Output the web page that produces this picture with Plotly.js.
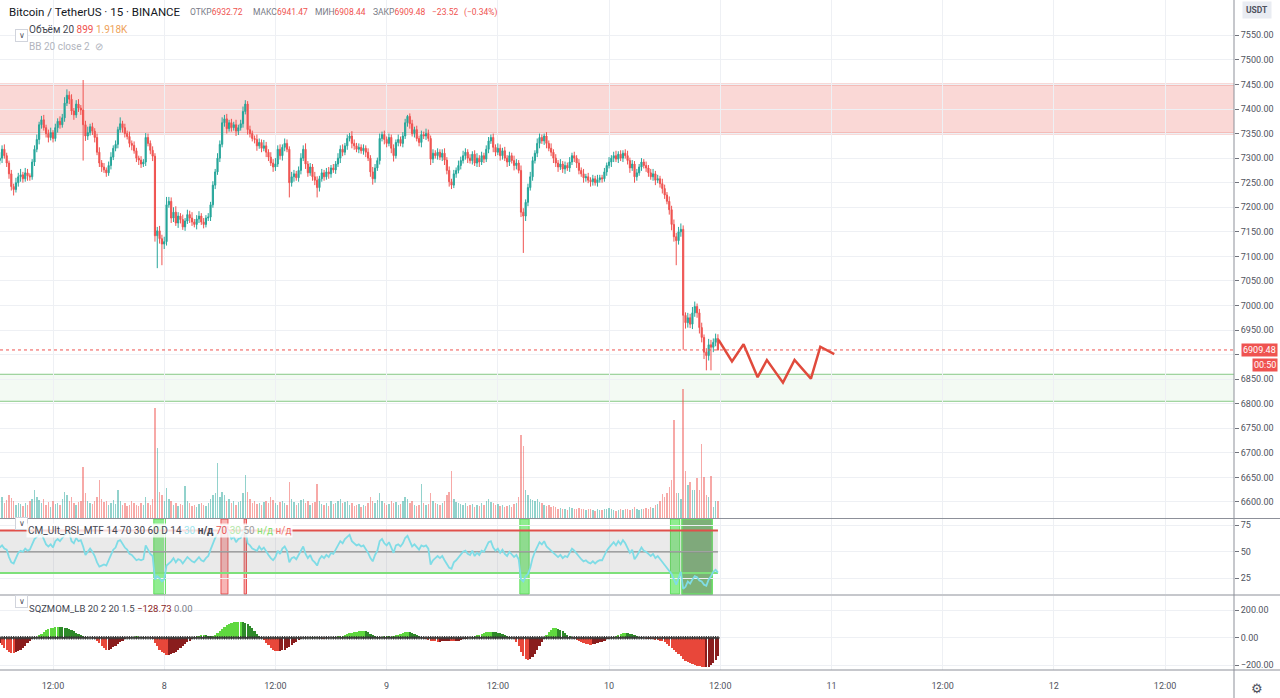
<!DOCTYPE html>
<html><head><meta charset="utf-8">
<script src="https://cdn.plot.ly/plotly-3.0.1.min.js"></script>
<style>html,body{margin:0;padding:0;background:#fff;overflow:hidden}#chart{width:1280px;height:698px}</style>
</head><body><div id="chart"></div>
<script>
// ---------- DATA (15-minute candles, BINANCE BTC/USDT) ----------
const startTime = '2018-06-07 06:15';
const firstOpen = 7295;
const closes = [
7300,7318,7305,7290,7268,7242,7236,7250,7262,7266,
7258,7270,7264,7262,7292,7318,7338,7368,7378,7362,
7350,7342,7352,7340,7362,7375,7368,7382,7412,7428,
7420,7396,7388,7410,7402,7398,7368,7345,7352,7364,
7355,7342,7312,7290,7282,7276,7270,7285,7302,7320,
7328,7358,7370,7362,7350,7344,7330,7326,7315,7300,
7296,7288,7292,7342,7330,7316,7304,7142,7152,7136,
7125,7130,7205,7212,7178,7190,7168,7182,7175,7160,
7172,7185,7178,7170,7165,7176,7182,7170,7165,7178,
7180,7205,7245,7272,7300,7328,7372,7380,7360,7372,
7362,7368,7355,7362,7370,7395,7410,7358,7350,7340,
7338,7325,7332,7320,7325,7312,7302,7290,7282,7288,
7318,7305,7322,7330,7318,7250,7262,7268,7260,7275,
7300,7318,7288,7270,7282,7262,7255,7240,7258,7270,
7262,7272,7268,7280,7276,7288,7300,7318,7312,7325,
7340,7345,7330,7325,7318,7322,7315,7320,7312,7300,
7272,7258,7280,7295,7340,7348,7338,7330,7342,7320,
7305,7332,7338,7330,7345,7372,7385,7370,7350,7358,
7340,7332,7348,7345,7350,7340,7298,7310,7305,7312,
7302,7310,7296,7275,7252,7245,7268,7275,7285,7295,
7305,7312,7300,7295,7308,7290,7300,7292,7305,7298,
7318,7335,7342,7322,7312,7320,7305,7315,7300,7292,
7305,7295,7285,7290,7275,7190,7182,7210,7240,7262,
7295,7310,7330,7342,7335,7345,7330,7320,7312,7300,
7290,7282,7288,7278,7285,7280,7292,7305,7300,7290,
7275,7268,7260,7262,7255,7252,7258,7250,7256,7260,
7258,7272,7285,7292,7300,7305,7298,7308,7300,7310,
7305,7295,7280,7288,7262,7270,7282,7292,7285,7280,
7270,7262,7268,7255,7258,7248,7238,7225,7212,7195,
7165,7140,7132,7150,7155,6980,6965,6975,6962,6985,
6998,6985,6955,6935,6905,6898,6920,6915,6925,6932.72,
6909.48];
const upperWick = [
12,8,10,6,5,8,6,10,8,12, 6,10,8,5,6,8,10,6,8,10, 6,8,10,5,8,6,10,8,12,12,
8,10,6,8,10,6,61,8,12,6, 8,6,8,10,6,8,5,8,10,6, 8,6,13,6,8,6,10,6,8,6,
5,8,6,9,8,6,8,6,8,10, 8,10,16,9,8,10,12,8,6,10, 6,10,8,12,6,8,10,6,8,6,
8,6,8,6,10,8,11,8,10,6, 8,6,10,6,8,10,8,6,8,6, 6,10,8,6,12,8,6,10,8,12,
8,10,6,10,8,6,10,8,6,8, 10,8,12,6,8,6,10,8,6,8, 6,8,10,6,8,6,10,8,10,6,
8,6,10,8,6,8,6,8,6,8, 6,10,8,6,10,6,8,6,8,6, 8,6,10,6,8,8,3,6,8,6,
8,6,8,6,10,8,6,8,6,8, 6,8,10,6,8,6,8,6,10,8, 10,8,6,8,6,8,10,6,8,6,
8,8,6,8,6,10,8,6,8,6, 8,6,10,8,6,10,8,6,8,10, 8,6,10,8,6,5,8,6,10,6,
8,6,10,6,8,6,10,6,8,6, 8,6,10,6,8,6,8,6,10,6, 6,8,6,10,6,8,10,6,8,6,
8,10,6,8,6,8,6,8,6,8, 6,8,10,6,8,6,10,8,6,10, 8,10,8,10,12,8,6,10,8,12,
10,6,8,10,6,8,12,10,8,10, 8.75];
const lowerWick = [
8,10,6,8,10,8,12,6,8,10, 8,6,10,8,6,8,6,10,8,6, 8,10,6,8,6,10,8,6,8,6,
10,8,10,6,8,10,73,10,8,6, 8,10,6,8,10,6,8,6,8,6, 6,8,6,10,8,6,8,10,6,8,
10,8,6,8,6,8,10,12,66,10, 43,10,8,6,10,8,6,10,8,6, 8,6,10,8,6,10,8,6,8,6,
6,8,6,8,6,8,6,8,10,6, 8,6,10,8,6,8,6,10,8,6, 8,10,6,8,6,10,8,6,10,8,
6,8,10,8,6,30,8,10,6,8, 8,6,10,8,6,8,10,20,8,6, 8,6,10,8,6,8,6,10,8,6,
8,6,10,8,6,8,6,8,10,6, 10,12,8,6,8,6,10,8,6,10, 12,6,8,6,8,6,8,10,6,8,
6,8,10,6,8,6,12,8,6,8, 6,8,10,8,10,8,6,8,6,8, 6,8,10,6,8,6,8,10,6,8,
6,8,6,10,8,6,10,8,6,10, 8,6,10,8,6,10,75,10,8,6, 8,6,8,10,6,8,10,6,8,10,
8,10,6,8,10,6,8,6,8,10, 8,6,10,8,6,10,8,6,8,6, 8,6,8,6,10,8,6,8,6,8,
6,8,10,6,12,8,6,8,6,8, 8,6,8,10,6,8,10,8,6,10, 12,10,50,8,10,70,12,10,8,10,
8,10,12,10,14,30,10,47,10,8, 1.04];
const volumes = [
900,1100,800,950,1200,1050,900,700,800,750,
650,800,700,900,1000,1500,1100,950,800,1000,
700,850,600,900,750,800,700,1000,1400,1200,
900,1100,800,700,850,900,2700,1300,900,800,
750,900,1100,2000,1000,850,900,700,800,950,
750,1500,900,700,800,650,700,900,800,700,
650,800,700,1100,800,700,1000,5800,3700,1400,
1200,900,1600,1000,900,700,800,650,750,700,
1700,900,800,650,700,600,750,800,700,650,
800,1000,1200,1300,2900,1100,1400,1200,900,1000,
800,900,700,850,900,1300,2300,1400,1000,800,
900,750,800,700,850,900,800,1100,950,800,
700,850,900,800,700,1900,1000,850,700,800,
950,1000,800,900,700,800,850,1800,900,750,
700,800,650,900,750,800,900,1000,800,850,
900,700,800,650,700,750,600,700,650,800,
1100,900,800,950,1300,900,800,700,750,900,
800,850,700,750,900,1100,1000,800,900,700,
650,700,1800,800,700,750,1300,900,800,750,
700,800,900,1200,1400,2500,1000,850,800,750,
700,800,650,700,750,600,700,650,800,700,
900,1000,850,800,700,750,650,700,600,650,
700,600,750,800,1100,4400,3800,1500,1200,1000,
950,900,1000,850,800,700,650,700,600,650,
600,500,550,450,500,400,600,550,450,500,
550,450,500,400,450,500,400,350,450,400,
400,450,500,550,450,400,350,400,450,400,
450,500,400,450,600,500,400,450,500,550,
500,600,550,700,750,900,1250,1100,1300,1650,
2000,5200,1300,1300,1000,6800,2500,1750,1900,1500,
1500,2100,1500,3900,2150,1200,1100,2200,580,900,
899];
const rsiValues = [
54,56,53,52,45,40,39,45,49,51, 50,53,51,52,58,62,64,66,67,61,
57,55,57,54,60,62,60,63,66,68, 68,60,58,63,60,61,55,47,50,53,
50,46,40,36,37,38,37,42,47,52, 54,60,61,57,54,52,48,47,44,42,
43,42,43,56,52,48,46,24,27,25, 22,24,37,39,41,44,40,43,42,39,
42,45,43,41,40,43,45,42,41,44, 46,52,58,63,67,69,73,74,71,68,
62,64,59,62,63,68,72,58,56,53, 52,51,55,52,54,50,47,44,42,45,
51,48,53,55,51,40,44,45,43,47, 51,55,48,44,47,42,40,37,43,46,
44,47,45,49,48,52,55,60,58,62, 64,66,60,58,56,57,55,56,53,49,
44,41,47,51,60,62,58,56,59,53, 49,56,57,55,58,63,65,60,55,57,
54,52,56,55,56,53,38,42,44,46, 44,46,42,38,35,34,40,42,45,47,
50,51,48,47,51,46,49,47,51,50, 55,59,60,54,51,53,49,52,48,46,
50,47,45,47,43,24,22,27,29,35, 44,50,55,59,57,60,55,53,51,49,
47,45,47,44,46,45,49,53,51,48, 45,43,41,42,40,39,41,39,41,42,
42,47,51,54,57,59,56,60,57,61, 58,54,49,52,43,46,50,54,51,50,
48,46,48,44,46,43,40,38,35,32, 29,24,19,25,31,15,17,22,20,24,
27,26,23,22,19,18,24,27,31,33, 30.4];
const sqzValues = [
-35,-55,-72,-88,-100,-107,-110,-106,-98,-86, -72,-56,-40,-25,-12,-4,6,18,30,42,
54,63,70,75,78,80,79,76,72,70, 66,58,48,38,28,18,10,4,-2,-4,
-3,-6,-20,-40,-60,-76,-88,-86,-80,-70, -58,-45,-32,-20,-10,-4,2,5,8,10,
9,7,5,3,1,-2,-10,-35,-60,-85, -100,-112,-125,-122,-118,-110,-100,-88,-75,-60,
-45,-32,-20,-8,4,10,16,20,21,18, 14,12,15,24,36,50,66,80,92,102,
108,112,115,116,117,116,110,100,86,68, 48,28,10,0,-15,-35,-55,-72,-85,-93,
-97,-96,-92,-85,-76,-65,-52,-40,-28,-18, -10,-4,-2,2,4,6,5,3,-2,-5,
-6,-4,-2,2,5,8,10,12,16,22, 28,34,38,42,45,47,48,49,46,40,
30,20,12,8,6,8,10,11,10,9, 12,18,24,30,36,40,42,41,38,30,
20,10,-4,-8,-12,-16,-20,-24,-26,-28, -28,-26,-24,-22,-20,-24,-26,-24,-20,-15,
-10,-6,-2,2,6,12,18,24,30,36, 40,43,45,45,42,38,32,26,18,10,
4,0,-10,-30,-60,-100,-135,-155,-160,-155, -140,-118,-90,-60,-30,-5,20,40,58,68,
70,66,58,48,36,24,12,4,-6,-14, -22,-30,-38,-44,-48,-50,-48,-44,-40,-34,
-28,-20,-12,-6,-2,4,12,20,28,33, 35,34,30,25,20,14,8,3,-3,-6,
-8,-10,-12,-14,-16,-20,-26,-34,-45,-58, -72,-88,-105,-120,-135,-152,-165,-175,-185,-192,
-198,-204,-208,-212,-215,-214,-210,-200,-185,-160, -128.73];
// user drawings
const forecastTimes = ['2018-06-10 11:49','2018-06-10 13:16','2018-06-10 14:31','2018-06-10 16:02','2018-06-10 17:02','2018-06-10 18:46','2018-06-10 20:01','2018-06-10 21:47','2018-06-10 22:48','2018-06-11 00:18'];
const forecastPrices = [6930,6886,6921,6854,6889,6843,6889,6851,6916,6901];
const resistanceZone = [7350, 7450];
const supportZone = [6805, 6860];
const darkBoxTimes = ['2018-06-10 07:52:30','2018-06-10 11:07:30'];
const lastPrice = 6909.48;
const rsiLevels = {upper:70, mid:50, lower:30};
const xTickTimes = ['2018-06-07 12:00','2018-06-08 00:00','2018-06-08 12:00','2018-06-09 00:00','2018-06-09 12:00','2018-06-10 00:00','2018-06-10 12:00','2018-06-11 00:00','2018-06-11 12:00','2018-06-12 00:00','2018-06-12 12:00'];
const xTickLabels = ['12:00','8','12:00','9','12:00','10','12:00','11','12:00','12','12:00'];
const xRange = ['2018-06-07 06:16:43','2018-06-12 19:26:19'];
const ohlcLabels = ['ОТКР','МАКС','МИН','ЗАКР'];
const ohlcValues = ['6932.72','6941.47','6908.44','6909.48'];
const changeText = ['−23.52','(−0.34%)'];

// ---------- derived ----------
const BAR = 15*60*1000;
const t0 = Date.parse(startTime.replace(' ','T')+':00Z');
const fmt = ms => new Date(ms).toISOString().slice(0,19).replace('T',' ');
const n = closes.length;
const times = closes.map((_,i)=>fmt(t0+i*BAR));
const opens = closes.map((c,i)=> i ? closes[i-1] : firstOpen);
const highs = closes.map((c,i)=> +(Math.max(opens[i],c)+upperWick[i]).toFixed(2));
const lows = closes.map((c,i)=> +(Math.min(opens[i],c)-lowerWick[i]).toFixed(2));
const volColors = closes.map((c,i)=> c>=opens[i] ? 'rgba(38,166,154,0.5)' : 'rgba(239,83,80,0.5)');
const sqzColors = sqzValues.map((v,i)=>{const p = i? sqzValues[i-1] : v; return v>=0 ? (v>p?'#5fd83f':'#2f8a2a') : (v<p?'#e8473a':'#8a1d1d');});

const FONT = 'Roboto, "Open Sans", sans-serif';
const PW = 1234, PH = 670;
const px = x => x/PW, py = y => 1 - y/PH;

const data = [
 {type:'candlestick', x:times, open:opens, high:highs, low:lows, close:closes, xaxis:'x', yaxis:'y',
  increasing:{line:{color:'#26a69a',width:1}, fillcolor:'#26a69a'},
  decreasing:{line:{color:'#ef5350',width:1}, fillcolor:'#ef5350'}, whiskerwidth:0, hoverinfo:'skip'},
 {type:'bar', x:times, y:volumes, xaxis:'x', yaxis:'y2', marker:{color:volColors, line:{width:0}}, width:BAR*0.6, hoverinfo:'skip'},
 {type:'scatter', mode:'lines', x:forecastTimes, y:forecastPrices, xaxis:'x', yaxis:'y', line:{color:'#e04a3c', width:2.5}, hoverinfo:'skip'},
 // RSI panel
 {type:'scatter', mode:'lines', x:times, y:times.map(()=>rsiLevels.upper), xaxis:'x', yaxis:'y3', line:{width:0}, hoverinfo:'skip'},
 {type:'scatter', mode:'lines', x:times, y:times.map(()=>rsiLevels.lower), xaxis:'x', yaxis:'y3', fill:'tonexty', fillcolor:'rgba(140,140,140,0.18)', line:{color:'#7ee07a', width:2}, hoverinfo:'skip'},
 {type:'scatter', mode:'lines', x:times, y:times.map(()=>rsiLevels.upper), xaxis:'x', yaxis:'y3', line:{color:'#e0504b', width:2}, hoverinfo:'skip'},
 {type:'scatter', mode:'lines', x:times, y:times.map(()=>rsiLevels.mid), xaxis:'x', yaxis:'y3', line:{color:'#8c8c8c', width:1.2}, hoverinfo:'skip'},
 {type:'scatter', mode:'lines', x:times, y:rsiValues, xaxis:'x', yaxis:'y3', line:{color:'#7fdce6', width:1.8}, hoverinfo:'skip'},
 // SQZMOM panel
 {type:'bar', x:times, y:sqzValues, xaxis:'x', yaxis:'y4', marker:{color:sqzColors, line:{width:0}}, width:BAR*0.95, hoverinfo:'skip'},
 {type:'scatter', mode:'markers', x:times, y:times.map(()=>0), xaxis:'x', yaxis:'y4', marker:{symbol:'cross', size:3, color:'#3a3a3a'}, hoverinfo:'skip'}
];

function runs(pred){const out=[];let s=-1;for(let i=0;i<n;i++){if(pred(i)){if(s<0)s=i;}else if(s>=0){out.push([s,i-1]);s=-1;}}if(s>=0)out.push([s,n-1]);return out;}
const shapes = [];
const rect = (x0,x1,yref,y0,y1,fill,line,layer)=>({type:'rect',xref:'x',yref,x0,x1,y0,y1,fillcolor:fill,line,layer});
const hline = (y,color,width,dash,layer)=>({type:'line',xref:'paper',yref:'y',x0:0,x1:1,y0:y,y1:y,line:{color,width,dash:dash||'solid'},layer:layer||'above'});
shapes.push({type:'rect',xref:'paper',yref:'y',x0:0,x1:1,y0:resistanceZone[0],y1:resistanceZone[1],fillcolor:'rgba(236,92,84,0.24)',line:{width:0},layer:'below'});
shapes.push(hline(resistanceZone[0],'#e26a60',1.5,'solid','below'), hline(resistanceZone[1],'#e26a60',1.5,'solid','below'));
shapes.push({type:'rect',xref:'paper',yref:'y',x0:0,x1:1,y0:supportZone[0],y1:supportZone[1],fillcolor:'rgba(90,180,90,0.07)',line:{width:0},layer:'below'});
shapes.push(hline(supportZone[0],'#86c985',1,'solid','below'), hline(supportZone[1],'#86c985',1,'solid','below'));
shapes.push(hline(lastPrice,'#ef5350',1,'dot'));
runs(i=>rsiValues[i]<rsiLevels.lower).forEach(([s,e])=>shapes.push(rect(fmt(t0+s*BAR-BAR/2),fmt(t0+e*BAR+BAR/2),'y3 domain',0,1,'rgba(70,225,70,0.6)',{color:'#5ee05a',width:1},'below')));
runs(i=>rsiValues[i]>rsiLevels.upper).forEach(([s,e])=>shapes.push(rect(fmt(t0+s*BAR-BAR/2),fmt(t0+e*BAR+BAR/2),'y3 domain',0,1,'rgba(240,90,90,0.45)',{color:'#e85050',width:1},'below')));
shapes.push(rect(darkBoxTimes[0],darkBoxTimes[1],'y3 domain',0,1,'rgba(110,125,100,0.55)',{color:'#6ee06a',width:1.5},'below'));
const sepColor = '#8d9099';
[518.5,595,670].forEach(y=>shapes.push({type:'line',xref:'paper',yref:'paper',x0:0,x1:1280/PW,y0:py(y),y1:py(y),line:{color:sepColor,width:1}}));
shapes.push({type:'line',xref:'paper',yref:'paper',x0:1,x1:1,y0:py(698),y1:1,line:{color:sepColor,width:1}});

const priceTicks = [];
for(let p=6600;p<=7550;p+=50) priceTicks.push(p);
// the 6900 label sits under the last-price badge, so its text is left blank (grid line kept)
const priceTickText = priceTicks.map(p=> Math.abs(p-lastPrice)<20 ? '' : p.toFixed(2));

const red='#ef5350';
const chev = (y)=>({xref:'paper',yref:'paper',x:px(14.5),y:py(y),text:'∨',showarrow:false,font:{size:8,color:'#50535e'},width:11,height:11,bordercolor:'#d1d4dc',borderwidth:1,borderpad:0,bgcolor:'#fff'});
const txt = (x,y,text,size,color,extra)=>Object.assign({xref:'paper',yref:'paper',x:px(x),y:py(y),xanchor:'left',yanchor:'middle',showarrow:false,text,font:{size,color}},extra||{});
const ohlcX = [188,250.5,313,371];
const annotations = [
 txt(7,12,'Bitcoin / TetherUS · 15 · BINANCE',11.5,'#131722'),
 ...ohlcLabels.map((l,i)=>txt(ohlcX[i],12.5,`${l}<span style="color:${red}">${ohlcValues[i]}</span>`,8.5,'#787b86')),
 txt(430,12.5,changeText[0],8.5,red),
 txt(461.5,12.5,changeText[1],8.5,red),
 chev(29),
 txt(27,29,`Объём 20 <span style="color:${red}">899</span> <span style="color:#eea25a">1.918K</span>`,10,'#434651'),
 txt(27,46,'BB 20 close 2  ⊘',10,'#b2b5be'),
 chev(530),
 txt(26,530,`CM_Ult_RSI_MTF 14 70 30 60 D 14 <span style="color:#9fe4ec">30</span> <b>н/д</b> <span style="color:#e85a5a">70</span> <span style="color:#b5e8ab">30</span> <span style="color:#a0a0a0">50</span> <span style="color:#86df6e">н/д</span> <span style="color:#f0736b">н/д</span>`,10,'#434651',{bgcolor:'rgba(255,255,255,0.8)'}),
 chev(608),
 txt(27,608,`SQZMOM_LB 20 2 20 1.5 <span style="color:#8a1d1d">−128.73</span> <span style="color:#787b86">0.00</span>`,9.5,'#434651'),
 {xref:'paper',yref:'paper',x:px(1257),y:py(10.5),xanchor:'center',yanchor:'middle',showarrow:false,text:'<b>USDT</b>',font:{size:8.5,color:'#50535e'},bgcolor:'#e9ecf2',borderpad:3},
 {xref:'paper',yref:'y',x:px(1278),y:lastPrice,xanchor:'right',yanchor:'middle',showarrow:false,text:'6909.48',font:{size:9,color:'#fff'},bgcolor:'#ef5350',borderpad:1},
 {xref:'paper',yref:'y',x:px(1278),y:lastPrice,yshift:-15,xanchor:'right',yanchor:'middle',showarrow:false,text:'00:50',font:{size:9,color:'#fff'},bgcolor:'#ef5350',borderpad:1},
 {xref:'paper',yref:'paper',x:px(1257),y:py(688),xanchor:'center',yanchor:'middle',showarrow:false,text:'⚙',font:{size:13,color:'#50535e'}}
];

const grid = '#eef0f4';
const yCommon = {side:'right',anchor:'x',ticks:'outside',ticklen:4,tickcolor:'#70737c',gridcolor:grid,zeroline:false,showline:false,fixedrange:true,tickfont:{size:9,color:'#50535e'}};
const layout = {
 width:1280,height:698,margin:{l:0,r:46,t:0,b:28},paper_bgcolor:'#fff',plot_bgcolor:'#fff',showlegend:false,hovermode:false,
 font:{family:FONT,size:9,color:'#50535e'},
 bargap:0,
 xaxis:{type:'date',range:xRange,anchor:'y4',tickmode:'array',tickvals:xTickTimes,ticktext:xTickLabels,showgrid:true,gridcolor:grid,ticks:'',ticklabelstandoff:9,
   tickfont:{size:9,color:'#50535e'},showline:false,zeroline:false,rangeslider:{visible:false},fixedrange:true},
 yaxis:Object.assign({},yCommon,{domain:[1-518/PH,1],range:[6567.4,7621.9],tickmode:'array',tickvals:priceTicks,ticktext:priceTickText}),
 yaxis2:{overlaying:'y',anchor:'x',range:[0,27400],visible:false,fixedrange:true},
 yaxis3:Object.assign({},yCommon,{domain:[(PH-594)/PH,(PH-519)/PH],range:[10.2,80.9],tickmode:'array',tickvals:[25,50,75]}),
 yaxis4:Object.assign({},yCommon,{domain:[0,(PH-596)/PH],range:[-234,304],tickmode:'array',tickvals:[-200,0,200],tickformat:'.2f'}),
 shapes, annotations
};
Plotly.newPlot('chart', data, layout, {displayModeBar:false, staticPlot:true});
</script></body></html>
